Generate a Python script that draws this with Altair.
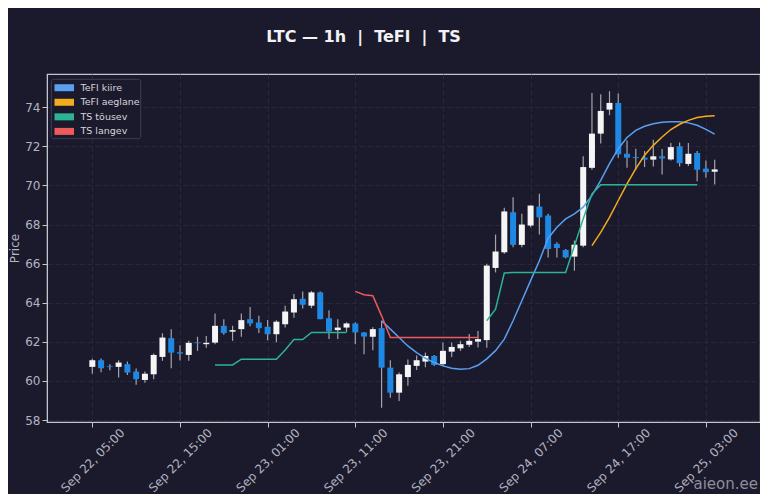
import altair as alt
import pandas as pd
import numpy as np

# hourly LTC candles, Sep 22 05:00 -> Sep 25 04:00
opens = [60.72, 61.06, 60.75, 60.72, 60.86, 60.48, 60.05, 60.34, 61.23, 62.19,
         61.47, 61.33, 61.97, 61.88, 61.96, 62.82, 62.52, 62.65, 63.16, 62.99,
         62.77, 62.39, 62.90, 63.50, 64.21, 63.85, 64.53, 63.21, 62.60, 62.73,
         62.94, 62.48, 62.26, 62.70, 60.68, 59.40, 60.20, 60.77, 60.99, 61.28,
         60.86, 61.50, 61.67, 61.85, 62.01, 62.09, 65.78, 66.58, 68.63, 66.96,
         67.95, 68.92, 68.46, 67.01, 66.70, 66.36, 66.92, 70.90, 72.65, 73.88,
         74.22, 71.62, 71.45, 71.42, 71.32, 71.49, 71.33, 72.00, 71.10, 71.66,
         70.86, 70.70]
highs = [61.14, 61.15, 60.86, 61.06, 61.00, 60.64, 60.48, 61.40, 62.44, 62.65,
         61.83, 62.05, 62.26, 62.30, 63.45, 63.16, 62.82, 63.45, 63.78, 63.33,
         63.12, 63.10, 63.85, 64.45, 64.58, 64.60, 64.58, 63.62, 63.15, 63.00,
         63.00, 62.50, 62.75, 63.08, 61.06, 60.43, 61.10, 61.30, 61.45, 61.33,
         61.96, 61.96, 62.05, 62.40, 62.56, 66.00, 67.49, 68.86, 69.40, 68.55,
         68.97, 69.57, 68.55, 67.09, 66.75, 67.18, 71.49, 74.73, 74.67, 74.82,
         74.70, 72.30, 71.88, 71.76, 72.34, 71.87, 72.17, 72.20, 72.17, 71.76,
         71.28, 71.32]
lows = [60.37, 60.45, 60.55, 60.17, 60.30, 59.80, 59.91, 60.09, 61.03, 60.65,
        61.04, 61.03, 61.54, 61.70, 61.88, 62.36, 62.05, 62.26, 62.80, 62.45,
        62.08, 61.98, 62.73, 63.23, 63.70, 63.72, 63.16, 62.14, 62.14, 62.50,
        61.88, 61.37, 61.57, 58.63, 59.14, 58.97, 59.75, 60.56, 60.70, 60.77,
        60.77, 61.23, 61.54, 61.74, 61.71, 61.70, 65.55, 66.50, 66.84, 66.84,
        67.86, 67.49, 66.32, 66.32, 66.28, 65.64, 66.84, 70.80, 72.14, 73.59,
        71.42, 70.90, 70.80, 70.94, 70.97, 70.56, 71.28, 70.97, 71.00, 70.22,
        70.39, 70.05]
closes = [61.06, 60.65, 60.71, 60.94, 60.43, 60.09, 60.37, 61.33, 62.22, 61.45,
          61.40, 61.95, 61.93, 61.95, 62.82, 62.45, 62.60, 63.11, 62.94, 62.70,
          62.39, 63.03, 63.55, 64.18, 63.90, 64.53, 63.16, 62.53, 62.73, 62.94,
          62.48, 62.27, 62.65, 60.68, 59.40, 60.34, 60.82, 61.06, 61.28, 60.82,
          61.54, 61.74, 61.88, 62.05, 62.14, 65.90, 66.62, 68.67, 66.96, 68.00,
          68.97, 68.37, 66.75, 66.80, 66.32, 66.97, 70.94, 72.65, 73.81, 74.22,
          71.59, 71.42, 71.40, 71.32, 71.49, 71.38, 71.96, 71.14, 71.62, 70.80,
          70.68, 70.82]

N = None
tefl_kiire = [N] * 33 + [
    63.08, 62.65, 62.22, 61.79, 61.45, 61.16, 60.94, 60.77, 60.65, 60.60,
    60.63, 60.80, 61.13, 61.55, 62.14, 63.08, 64.10, 65.13, 66.15, 67.30,
    67.86, 68.29, 68.55, 68.89, 69.49, 70.26, 71.11, 71.88, 72.45, 72.82,
    73.03, 73.16, 73.23, 73.26, 73.26, 73.20, 73.08, 72.87, 72.62]
tefl_aeglane = [N] * 57 + [
    66.92, 67.60, 68.37, 69.23, 70.08, 70.86, 71.54, 72.05, 72.48, 72.86,
    73.13, 73.33, 73.47, 73.54, 73.57]
ts_tousev = [N] * 14 + [
    60.82, 60.82, 60.82, 61.11, 61.11, 61.11, 61.11, 61.11, 61.58, 62.12,
    62.12, 62.48, 62.48, 62.48, 62.48, 62.48] + [N] * 15 + [
    63.08, 63.67, 65.52, 65.55, 65.55, 65.55, 65.55, 65.55, 65.55, 65.55,
    66.92, 68.29, 69.57, 70.03, 70.03, 70.03, 70.03, 70.03, 70.03, 70.03,
    70.03, 70.03, 70.03, 70.03, 70.03]
ts_langev = [N] * 30 + [
    64.58, 64.41, 64.36, 63.33, 62.22, 62.22, 62.22, 62.22, 62.22, 62.22,
    62.22, 62.22, 62.22, 62.22, 62.22] + [N] * 27

series_names = ["TeFl kiire", "TeFl aeglane", "TS tõusev", "TS langev"]
series_colors = ["#5a9ff0", "#f2ad1c", "#2bb394", "#ef5a5a"]
series_widths = [1.5, 1.5, 2.0, 2.0]

times = pd.date_range("2025-09-22 05:00", periods=len(opens), freq="h")
tick_hours = [(22, 5), (22, 15), (23, 1), (23, 11), (23, 21), (24, 7), (24, 17), (25, 3)]

candles = pd.DataFrame({"t": times, "open": opens, "high": highs,
                        "low": lows, "close": closes})
candles["dir"] = np.where(candles["close"] >= candles["open"], "up", "down")

rows = []
for name, vals in zip(series_names, [tefl_kiire, tefl_aeglane, ts_tousev, ts_langev]):
    seg = 0
    prev = None
    for t, v in zip(times, vals):
        if v is None:
            prev = None
            continue
        if prev is None:
            seg += 1
        rows.append({"t": t, "value": v, "series": name, "seg": f"{name}-{seg}"})
        prev = v
lines = pd.DataFrame(rows)

FONT = "DejaVu Sans"
BG = "#1b1a2c"
FG = "#b4b4c0"
color_scale = alt.Scale(domain=series_names, range=series_colors)

x_enc = alt.X("t:T",
              scale=alt.Scale(domain=[alt.DateTime(year=2025, month=9, date=22, hours=0, minutes=24),
                                      alt.DateTime(year=2025, month=9, date=25, hours=8, minutes=36)]),
              axis=alt.Axis(values=[alt.DateTime(year=2025, month=9, date=d, hours=h) for d, h in tick_hours],
                            format="%b %d, %H:%M", labelAngle=315, labelAlign="center",
                            labelBaseline="middle", labelPadding=33, title=None))
y_scale = alt.Scale(domain=[57.9, 75.7], nice=False, zero=False)
y_axis = alt.Axis(values=list(range(58, 75, 2)), title="Price", titlePadding=3)

base = alt.Chart(candles)
wicks = base.mark_rule(color="#a4a4ac", strokeWidth=1.2).encode(
    x=x_enc,
    y=alt.Y("low:Q", scale=y_scale, axis=y_axis),
    y2="high:Q"
)
bodies = base.mark_bar(size=6).encode(
    x="t:T",
    y="open:Q",
    y2="close:Q",
    color=alt.Color("dir:N", scale=alt.Scale(domain=["up", "down"], range=["#f5f5f5", "#1e88e5"]),
                    legend=None)
)

indicator = alt.Chart(lines).mark_line().encode(
    x="t:T",
    y="value:Q",
    detail="seg:N",
    color=alt.Color("series:N", scale=color_scale, legend=None),
    strokeWidth=alt.StrokeWidth("series:N", scale=alt.Scale(domain=series_names, range=series_widths),
                                legend=None)
)

price = alt.layer(wicks, bodies, indicator).resolve_scale(color="independent")

# legend box in the top-left corner of the plot
leg_df = pd.DataFrame({"series": series_names, "idx": list(range(len(series_names)))})
leg_y = alt.Y("idx:Q", scale=alt.Scale(domain=[0, 3], range=[13.7, 57.4]), axis=None)
leg_box = alt.Chart(pd.DataFrame({"k": [0]})).mark_rect(
    fill=BG, stroke="#3e3e56", strokeWidth=1, cornerRadius=2
).encode(x=alt.value(4.3), x2=alt.value(93.7), y=alt.value(5.3), y2=alt.value(64.7))
leg_patch = alt.Chart(leg_df).mark_rule(strokeWidth=7, strokeCap="butt").encode(
    x=alt.value(7.5), x2=alt.value(27), y=leg_y,
    color=alt.Color("series:N", scale=color_scale, legend=None)
)
leg_text = alt.Chart(leg_df).mark_text(
    align="left", baseline="middle", fontSize=9.5, font=FONT, color="#d6d6de"
).encode(x=alt.value(33.5), y=leg_y, text="series:N")
legend = alt.layer(leg_patch, leg_text)

mark = alt.Chart(pd.DataFrame({"w": ["aieon.ee"]})).mark_text(
    align="right", baseline="middle", fontSize=15, font=FONT, color="#8e8e9a"
).encode(text="w:N", x=alt.value(711), y=alt.value(410))

chart = alt.layer(price, leg_box, legend, mark).resolve_scale(
    color="independent", y="independent"
).properties(
    width=713, height=348,
    autosize="none",
    padding={"left": 39, "top": 66, "right": 0, "bottom": 72},
    background=BG,
    title=alt.TitleParams("LTC — 1h \u00a0|\u00a0 TeFl \u00a0|\u00a0 TS", fontSize=16, font=FONT,
                          fontWeight="bold", color="#f2f2f6", anchor="middle", dx=-40, offset=29)
).configure_view(
    stroke="#c4c4cc", strokeWidth=1.2
).configure_axis(
    labelFont=FONT, labelFontSize=12, labelColor=FG, titleFont=FONT, titleFontSize=12,
    titleColor=FG, titleFontWeight="normal", tickColor="#c4c4cc", tickSize=5,
    domainColor="#c4c4cc", gridColor="#2b2b42", gridDash=[5, 3], gridWidth=0.8
)

chart.save("out.html", embed_options={"renderer": "svg", "actions": False})
